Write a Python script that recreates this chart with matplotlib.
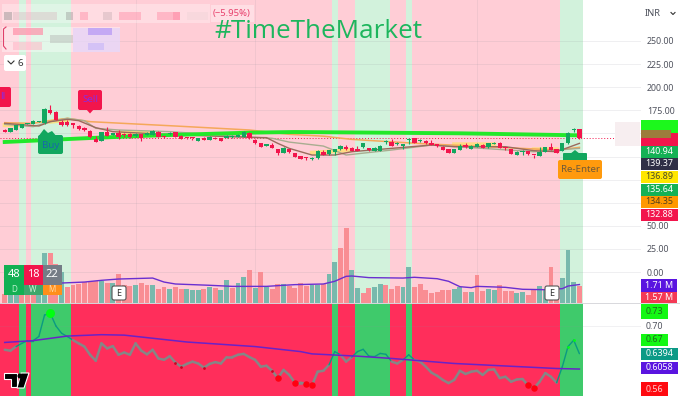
import matplotlib
matplotlib.use("Agg")
import matplotlib.pyplot as plt
from matplotlib.patches import FancyBboxPatch, Rectangle, Polygon
import numpy as np

plt.rcParams['font.family'] = ['Noto Sans', 'DejaVu Sans']

# candles, one value per bar
opens = [153.7, 151.9, 153.7, 156.2, 160.3, 160.2, 162.3, 160.9, 175.3, 172.8,
         162.7, 162.7, 160.9, 158.4, 156.2, 153.0, 144.3, 142.1, 151.9, 148.3,
         150.1, 148.6, 149.0, 147.2, 149.3, 148.3, 148.3, 151.9, 147.2, 149.0,
         151.2, 147.5, 144.9, 144.5, 141.8, 144.7, 142.9, 145.4, 144.7, 144.7,
         146.3, 146.5, 146.5, 150.8, 142.9, 139.2, 136.4, 137.4, 132.8, 129.1,
         133.1, 128.4, 125.5, 123.2, 121.9, 123.0, 130.2, 127.3, 130.2, 132.7,
         134.9, 133.8, 132.7, 134.9, 134.2, 131.3, 131.3, 140.7, 141.0, 138.3,
         136.3, 142.6, 144.6, 141.8, 142.1, 139.9, 138.1, 135.6, 133.1, 129.1,
         132.0, 137.0, 133.4, 135.6, 137.8, 134.9, 139.0, 139.2, 134.0, 132.7,
         126.6, 130.0, 130.9, 126.4, 125.9, 130.2, 134.9, 133.1, 130.9, 139.2,
         153.3, 154.4]
closes = [151.9, 155.5, 159.1, 160.2, 160.9, 163.4, 162.7, 176.0, 171.7, 164.5,
          159.1, 159.1, 159.1, 154.4, 153.3, 145.7, 141.0, 151.2, 147.5, 150.1,
          145.7, 148.0, 146.5, 149.0, 144.7, 150.1, 153.0, 146.5, 145.7, 150.8,
          146.5, 143.9, 144.3, 144.0, 144.7, 142.9, 145.7, 143.9, 142.1, 147.5,
          146.7, 148.3, 151.2, 144.7, 139.2, 135.6, 138.2, 134.6, 129.1, 134.6,
          129.5, 124.8, 122.6, 122.7, 123.7, 130.9, 126.6, 132.0, 133.1, 136.7,
          132.7, 131.3, 131.3, 139.2, 132.0, 134.5, 136.3, 141.3, 136.7, 138.9,
          138.1, 143.0, 139.9, 142.2, 139.2, 137.8, 136.0, 132.0, 129.1, 133.1,
          136.7, 134.9, 136.7, 138.1, 134.2, 139.2, 139.5, 134.5, 133.6, 127.7,
          130.2, 130.5, 127.3, 126.0, 130.2, 134.9, 132.0, 129.1, 139.2, 150.0,
          153.8, 144.6]
highs = [154.5, 156.0, 159.6, 160.5, 161.3, 165.0, 163.0, 177.0, 180.7, 174.0,
         164.0, 164.0, 161.5, 159.0, 156.5, 153.3, 147.2, 152.0, 157.3, 150.8,
         153.7, 150.0, 150.1, 150.5, 149.6, 151.0, 154.0, 152.5, 147.6, 151.2,
         152.0, 148.0, 145.3, 145.5, 145.0, 146.0, 147.0, 146.5, 145.0, 148.0,
         147.8, 149.5, 152.5, 151.5, 143.5, 139.6, 138.6, 139.2, 133.5, 135.0,
         133.5, 128.7, 125.8, 124.5, 125.0, 132.0, 132.5, 132.5, 133.6, 137.0,
         137.0, 135.5, 136.0, 139.6, 134.6, 135.2, 137.0, 143.0, 143.5, 140.5,
         138.8, 144.5, 145.0, 143.5, 142.5, 142.5, 139.0, 136.0, 133.5, 133.5,
         138.0, 140.0, 137.2, 140.0, 138.2, 139.6, 141.0, 140.5, 135.0, 133.0,
         130.6, 132.0, 131.3, 127.0, 135.6, 135.5, 139.2, 133.5, 139.8, 151.8,
         155.5, 154.8]
lows = [151.0, 151.0, 153.5, 156.0, 160.0, 160.0, 162.0, 160.5, 170.6, 164.0,
        157.5, 158.5, 155.5, 154.0, 153.0, 145.0, 140.6, 141.5, 147.0, 147.8,
        143.6, 146.0, 145.5, 146.0, 142.1, 148.0, 148.0, 146.0, 145.0, 148.8,
        146.0, 143.6, 144.0, 143.0, 141.6, 142.5, 142.5, 143.5, 141.8, 144.5,
        145.5, 146.0, 146.0, 144.3, 139.0, 135.2, 136.2, 134.2, 126.6, 128.8,
        129.0, 124.5, 122.3, 121.0, 121.6, 122.7, 126.3, 127.0, 126.6, 132.4,
        132.4, 131.0, 131.0, 134.6, 130.5, 130.6, 131.0, 138.0, 136.4, 137.0,
        132.7, 139.0, 139.5, 141.0, 139.0, 137.5, 135.7, 131.7, 128.8, 128.8,
        131.7, 134.5, 133.0, 135.0, 134.0, 134.6, 138.0, 134.0, 132.3, 127.3,
        126.3, 126.5, 127.0, 123.0, 125.5, 129.9, 131.7, 128.8, 130.5, 138.9,
        152.0, 144.3]

# moving averages on price, read at a few bars
brown_bars = [0, 6, 8, 11, 13, 16, 19, 28, 43, 46, 48, 50, 53, 54, 58, 61, 68, 75, 79, 88, 93, 97, 101]
brown_vals = [160.9, 158.0, 162.7, 165.2, 163.8, 156.2, 151.9, 149.0, 145.7, 145.4, 139.2, 133.8,
              128.4, 126.6, 126.6, 130.2, 133.8, 137.4, 135.6, 135.6, 131.3, 130.2, 139.2]
grey_bars = [0, 5, 8, 11, 14, 16, 20, 29, 44, 47, 50, 56, 60, 68, 75, 93, 101]
grey_vals = [159.8, 157.3, 162.7, 166.3, 163.8, 155.5, 153.7, 151.9, 145.7, 144.7, 140.6,
             136.3, 126.6, 132.0, 137.4, 130.2, 133.8]
orange_bars = [0, 5, 8, 11, 15, 30, 43, 50, 56, 61, 73, 97, 101]
orange_vals = [161.6, 160.9, 163.8, 166.3, 162.7, 158.0, 153.7, 149.0, 147.0, 143.5, 139.0, 132.0, 134.9]
lime_bars = [0, 15, 25, 43, 51, 80, 101]
lime_vals = [140.7, 145.0, 147.5, 150.8, 151.5, 150.1, 147.9]
# yellow ribbon only shows in stretches, nan breaks the line
yellow_bars = [0, 3, 4, 8, 11, 12, 20, 26, 27, 54, 61, 62, 79, 86, 87, 93, 97]
yellow_vals = [159.0, 159.0, np.nan, 162.7, 164.5, np.nan, 150.8, 150.8, np.nan, 129.0, 132.0, np.nan,
               138.1, 138.1, np.nan, 132.7, 132.7]
last_price = 144.6

# green stretches of the background, first and last bar
band_first = [3, 5, 58, 62, 71, 98]
band_last = [3, 11, 58, 67, 71, 101]

# volume in millions
volumes = [0.86, 1.02, 1.33, 1.17, 1.48, 1.79, 1.94, 4.66, 4.60, 3.64,
           2.87, 1.48, 1.70, 1.79, 1.94, 2.01, 2.04, 2.01, 1.88, 1.82,
           2.69, 1.70, 1.57, 1.70, 1.88, 1.70, 1.64, 1.33, 1.45, 1.27,
           1.45, 1.27, 1.27, 1.20, 1.20, 1.27, 1.51, 1.39, 1.20, 2.16,
           1.42, 1.82, 2.41, 3.02, 1.42, 2.84, 1.51, 1.27, 1.76, 1.79,
           1.57, 1.39, 1.85, 1.57, 1.70, 1.70, 1.79, 2.69, 3.80, 5.09,
           6.94, 3.02, 1.39, 0.90, 1.39, 1.45, 1.79, 1.64, 1.33, 1.57,
           1.45, 3.33, 1.45, 1.73, 1.23, 0.90, 1.02, 1.17, 1.17, 1.33,
           1.45, 0.99, 0.99, 2.56, 1.08, 1.27, 1.20, 1.64, 1.08, 1.11,
           0.93, 0.99, 0.77, 1.17, 1.60, 1.33, 3.33, 1.39, 2.31, 4.94,
           1.94, 1.57]
vol_up = [0, 1, 1, 0, 0, 0, 1, 1, 0, 0, 1, 0, 0, 0, 0, 0, 0, 1, 0, 1,
          0, 0, 0, 1, 0, 0, 1, 0, 0, 1, 0, 0, 1, 1, 1, 0, 1, 0, 1, 1,
          0, 1, 1, 0, 1, 0, 1, 0, 0, 1, 0, 0, 0, 0, 1, 1, 0, 1, 1, 0,
          0, 1, 1, 0, 0, 1, 1, 0, 0, 0, 1, 1, 0, 0, 0, 0, 0, 0, 0, 1,
          1, 0, 1, 0, 0, 1, 1, 0, 0, 0, 1, 1, 0, 0, 1, 1, 0, 0, 1, 1,
          1, 0]
vma_bars = [0, 2, 6, 7, 10, 14, 17, 20, 26, 28, 30, 36, 40, 46, 49, 51, 56, 58, 60, 61, 64,
            70, 72, 76, 78, 80, 82, 83, 88, 91, 95, 98, 99, 101]
vma_vals = [2.41, 2.01, 1.48, 1.64, 1.85, 1.94, 2.10, 2.22, 2.31, 1.94, 1.76, 1.64, 1.54, 1.54,
            1.64, 1.70, 1.76, 2.01, 2.47, 2.50, 2.35, 2.31, 2.38, 2.25, 2.01, 1.51, 1.42, 1.54,
            1.45, 1.27, 1.23, 1.33, 1.57, 1.71]

# oscillator, one value per bar
osc = [0.648, 0.646, 0.655, 0.662, 0.668, 0.668, 0.677, 0.724, 0.728, 0.700,
       0.684, 0.677, 0.669, 0.662, 0.655, 0.637, 0.624, 0.662, 0.651, 0.656,
       0.637, 0.642, 0.637, 0.662, 0.646, 0.638, 0.648, 0.629, 0.626, 0.634,
       0.620, 0.611, 0.617, 0.622, 0.618, 0.609, 0.617, 0.621, 0.618, 0.632,
       0.632, 0.637, 0.639, 0.632, 0.626, 0.611, 0.613, 0.602, 0.586, 0.604,
       0.593, 0.576, 0.576, 0.573, 0.570, 0.600, 0.602, 0.615, 0.644, 0.637,
       0.622, 0.632, 0.644, 0.649, 0.634, 0.633, 0.640, 0.638, 0.622, 0.618,
       0.626, 0.637, 0.626, 0.622, 0.611, 0.598, 0.591, 0.582, 0.575, 0.582,
       0.602, 0.595, 0.600, 0.602, 0.593, 0.604, 0.605, 0.586, 0.589, 0.578,
       0.583, 0.584, 0.570, 0.564, 0.578, 0.597, 0.589, 0.576, 0.611, 0.655,
       0.669, 0.6394]
osc_ma_bars = [0, 5, 11, 17, 21, 32, 44, 52, 54, 62, 68, 79, 97, 101]
osc_ma_vals = [0.664, 0.668, 0.678, 0.681, 0.680, 0.665, 0.655, 0.644, 0.639, 0.634, 0.629, 0.618, 0.607, 0.6058]
low_big = [48, 51, 53, 54, 92, 93]
low_small = [30, 31, 35, 47]
high_big = [8]
high_small = [99, 100]

price_ticks = [250, 225, 200, 175, 50, 25, 0]
price_tags = ["140.94", "139.37", "136.89", "135.64", "134.35", "132.88"]
vol_tags = ["1.71 M", "1.57 M"]
osc_tags = ["0.73", "0.67", "0.6394", "0.6058", "0.56"]
rating_values = ["48", "18", "22"]
rating_names = ["D", "W", "M"]

W, H = 680, 400
PINK = "#ffcdd6"
LGREEN = "#d2f2dc"
UP = "#12a75f"
DOWN = "#f2154c"
bars = np.arange(len(closes))
bar_left, bar_right = -0.83, 111.65
band_end = 101.66

fig = plt.figure(figsize=(6.8, 4.0), dpi=100)


def pane(top, bottom):
    return fig.add_axes([0, 1 - bottom / H, 1, (bottom - top) / H])


# price pane runs over the whole width, axis labels sit inside the right margin
ax = pane(0, 303)
ax.set_xlim(bar_left, bar_left + (bar_right - bar_left) * W / 640)
ax.set_ylim(272 / 0.924 - 303 / 0.924, 272 / 0.924)
ax.axvspan(bar_left, band_end, color=PINK, lw=0, zorder=0)
for a, b in zip(band_first, band_last):
    ax.axvspan(a - 0.42, b + 0.66, color=LGREEN, lw=0, zorder=0.5)
for v in range(0, 275, 25):
    ax.plot([bar_left, bar_right], [v, v], color="#90909a", alpha=0.14, lw=0.7, zorder=1)
for t in [23, 44, 83]:
    ax.axvline(t, ymin=0, ymax=1, color="#90909a", alpha=0.12, lw=0.7, zorder=1)
ax.set_yticks(price_ticks)
ax.set_yticklabels(["%.2f" % v for v in price_ticks], fontsize=6.4, color="#50535e")
ax.yaxis.tick_right()
ax.tick_params(axis="y", length=0, pad=-23.8)
ax.set_xticks([])
for s in ax.spines.values():
    s.set_visible(False)

# volume shares the pane, same pixels, its own scale
ax_vol = pane(0, 303)
ax_vol.set_xlim(ax.get_xlim())
ax_vol.set_ylim(0, 303 / 10.8)
ax_vol.axis("off")
vol_colors = ["#78b9ad" if u else "#f98d93" for u in vol_up]
ax_vol.bar(bars, volumes, width=0.86, color=vol_colors, lw=0, zorder=2)
ax_vol.plot(vma_bars, vma_vals, color="#6a2fd0", lw=1.0, zorder=3)

# price marks go in a third layer so they sit over the volume
ax_p = pane(0, 303)
ax_p.set_xlim(ax.get_xlim())
ax_p.set_ylim(ax.get_ylim())
ax_p.axis("off")
ax_p.plot([bar_left, 107], [last_price, last_price], color="#f2154c", lw=0.7, ls=(0, (1, 2)), zorder=2)
ax_p.plot(yellow_bars, yellow_vals, color="#ffdf70", lw=3, alpha=0.8, zorder=2.5)
ax_p.plot(orange_bars, orange_vals, color="#f5a85a", lw=1.1, zorder=3)
ax_p.plot(grey_bars, grey_vals, color="#a8ad90", lw=1.0, zorder=3)
ax_p.plot(brown_bars, brown_vals, color="#9a6a5c", lw=1.0, zorder=3)
ax_p.plot(lime_bars, lime_vals, color="#22e82a", lw=2.8, zorder=3)
colors = [UP if c >= o else DOWN for o, c in zip(opens, closes)]
ax_p.vlines(bars, lows, highs, colors=colors, lw=0.8, zorder=4)
# very small bodies would vanish, keep them a pixel tall
heights = [c - o if abs(c - o) >= 1.1 else 1.1 for o, c in zip(opens, closes)]
ax_p.bar(bars, heights, bottom=opens, width=0.76, color=colors, lw=0, zorder=5)

# oscillator pane
ax_o = pane(303, 396)
ax_o.set_xlim(ax.get_xlim())
ax_o.set_ylim(0.70 - 70 / 457, 0.70 + 23 / 457)
ax_o.axis("off")
ax_o.axvspan(bar_left, band_end, color="#ff2e5b", lw=0, zorder=0)
for a, b in zip(band_first, band_last):
    ax_o.axvspan(a - 0.42, b + 0.66, color="#3fca6b", lw=0, zorder=0.5)
ax_o.plot([bar_left, bar_right], [0.70, 0.70], color="#90909a", alpha=0.12, lw=0.7, zorder=1)
for i in bars[:-1]:
    in_band = any(a - 1 <= i <= b for a, b in zip(band_first, band_last))
    ax_o.plot(bars[i:i + 2], osc[i:i + 2], color="#0b9a82" if in_band else "#868686",
              lw=1.0 if in_band else 1.8, zorder=2, solid_capstyle="round")
ax_o.plot(osc_ma_bars, osc_ma_vals, color="#6a22c8", lw=1.1, zorder=3)
ax_o.scatter(low_big, [osc[i] for i in low_big], s=22, color="#ff0010", lw=0, zorder=4)
ax_o.scatter(low_small, [osc[i] for i in low_small], s=4, color="#d00020", lw=0, zorder=4)
ax_o.scatter(high_big, [osc[i] for i in high_big], s=42, color="#00ff10", lw=0, zorder=4)
ax_o.scatter(high_small, [osc[i] for i in high_small], s=4, color="#00ff10", lw=0, zorder=4)

# overlay in pixels for labels and widgets
ov = fig.add_axes([0, 0, 1, 1])
ov.set_xlim(0, W)
ov.set_ylim(H, 0)
ov.axis("off")
ov.patch.set_alpha(0)


def rect(x0, y0, x1, y1, color, alpha=1.0, z=2):
    ov.add_patch(Rectangle((x0, y0), x1 - x0, y1 - y0, facecolor=color, edgecolor="none", alpha=alpha, zorder=z))


def rbox(x0, y0, x1, y1, color, r=2, z=3, edge="none", lw=0):
    ov.add_patch(FancyBboxPatch((x0 + r, y0 + r), x1 - x0 - 2 * r, y1 - y0 - 2 * r,
                                boxstyle="round,pad=%g,rounding_size=%g" % (r, r),
                                facecolor=color, edgecolor=edge, lw=lw, zorder=z))


def tag(x0, y0, x1, y1, color, label, tc="white"):
    rect(x0, y0, x1, y1, color)
    ov.text((x0 + x1) / 2, (y0 + y1) / 2, label, ha="center", va="center", fontsize=6.4, color=tc, zorder=4)


# blurred header
rect(2, 4, 210, 23, "white", 0.3)
rect(2, 27, 120, 52, "white", 0.4)
for x0, x1, c, al in [(4, 12, "#8f8f8f", 0.45), (13, 57, "#d8b8be", 0.4), (66, 73, "#8f8f8f", 0.38),
                      (80, 88, "#ff8aa5", 0.45), (103, 112, "#c0a8ae", 0.38), (119, 141, "#ff8aa5", 0.45),
                      (157, 173, "#ff8aa5", 0.45), (173, 180, "#ff6f90", 0.55), (187, 208, "#f4d5da", 0.55)]:
    rect(x0, 12, x1, 20, c, al)
rect(13, 28, 43, 35, "#ff8fa8", 0.7)
rect(13, 42, 42, 50, "#ffb6c6", 0.55)
rect(50, 35, 73, 43, "#b8bdb8", 0.5)
rect(73, 28, 120, 52, "#dccfff", 0.55)
rect(88, 28, 112, 35, "#b89af5", 0.75)
rect(88, 43, 104, 50, "#cdbcf8", 0.75)
ov.plot([6, 3.5, 3.5, 6], [27, 29, 46, 49], color="#e0406a", lw=0.8, zorder=3)
rect(211, 5, 254, 22, "white", 0.35)
ov.text(232, 13.5, "(\u22125.95%)", ha="center", va="center", fontsize=6.8, color="#e8406c", zorder=4)
ov.text(214, 32, "#TimeTheMarket", ha="left", va="center", fontsize=18.85, color="#1db65d",
        family="Open Sans", zorder=4)
rbox(4, 55, 26, 71, "white", 2)
ov.plot([8, 11, 14], [61, 64, 61], color="#333", lw=0.8, zorder=4)
ov.text(20, 63.5, "6", ha="center", va="center", fontsize=7, color="#333", zorder=4)
rbox(644, 5, 678, 22, "white", 1, z=1.5)
ov.text(653, 13.5, "INR", ha="center", va="center", fontsize=6.8, color="#50535e", zorder=4)
ov.plot([671, 673, 675], [12.5, 14.5, 12.5], color="#333", lw=0.8, zorder=4)

# signal flags
rbox(38, 135, 63, 154, UP, 2)
ov.add_patch(Polygon([(38, 137), (44, 129), (48, 133), (52, 131), (57, 137)], facecolor=UP, zorder=3))
ov.text(50.5, 145.5, "Buy", ha="center", va="center", fontsize=7, color="#1769aa", zorder=4)
rbox(78, 90, 102, 110, DOWN, 2)
ov.add_patch(Polygon([(86, 109), (94, 109), (90, 113.5)], facecolor=DOWN, zorder=3))
ov.text(90, 99.5, "Sell", ha="center", va="center", fontsize=7, color="#8a2be2", zorder=4)
rbox(-6, 87, 11, 107, DOWN, 2)
ov.text(3, 96.5, "ll", ha="center", va="center", fontsize=7, color="#8a2be2", zorder=4)
rbox(563, 153, 587, 162, UP, 1)
ov.add_patch(Polygon([(563, 155), (570, 154), (575, 150), (580, 154), (587, 155)], facecolor=UP, zorder=3))
rbox(558, 160, 602, 179, "#ff9a0d", 2)
ov.text(580, 170, "Re-Enter", ha="center", va="center", fontsize=7, color="#6e5a3a", zorder=4)

# earnings markers
for x in [119, 552]:
    rbox(x - 7, 286, x + 7, 300, "white", 2, edge="#555", lw=0.8)
    ov.text(x, 293.3, "E", ha="center", va="center", fontsize=6.5, color="#333", weight="bold", zorder=4)

# ratings widget
cell_x = [4, 23.5, 42.5, 62]
top_c = ["#13b053", "#f2154c", "#757c86"]
low_c = ["#13b053", "#3fa76c", "#ff8f1a"]
low_t = ["#b8f0cc", "#c8f0d4", "#ffd9a8"]
for k in range(3):
    rect(cell_x[k], 264.5, cell_x[k + 1], 284.5, top_c[k])
    rect(cell_x[k], 284.5, cell_x[k + 1], 294.5, low_c[k])
    ov.text((cell_x[k] + cell_x[k + 1]) / 2, 274.5, rating_values[k], ha="center", va="center",
            fontsize=8, color="white", zorder=4)
    ov.text((cell_x[k] + cell_x[k + 1]) / 2, 289.5, rating_names[k], ha="center", va="center",
            fontsize=5.8, color=low_t[k], zorder=4)

# logo
ov.add_patch(Polygon([(4, 373), (17, 373), (17, 387), (11, 387), (11, 379), (4, 379)],
                     facecolor="black", edgecolor="white", lw=0.8, zorder=4))
ov.add_patch(Polygon([(21, 373), (29, 373), (24, 388), (17, 388)],
                     facecolor="black", edgecolor="white", lw=0.8, zorder=4))
ov.add_patch(plt.Circle((20, 376), 1.8, color="black", zorder=5))

# right side tags, the top two are hidden under a blur in the original
rect(615, 122, 640, 146, "#f7eef0", 1, z=1.5)
rect(640.5, 120, 678, 133, "#1cf81c")
rect(640.5, 133, 678, 146, "#f2154c")
rect(640.5, 130, 671, 138, "#9c7c3c")
tag_layout = [(146, 157.5, "#14b155", "white"), (158, 170, "#2f2f46", "white"), (170.5, 183, "#ffe600", "#4a4a2a"),
              (183.5, 195.5, "#14b155", "white"), (196, 208, "#ff9800", "#54401c"), (208.5, 220.5, "#f2154c", "white")]
for lb, (y0, y1, c, tc) in zip(price_tags, tag_layout):
    tag(640.5, y0, 678, y1, c, lb, tc)
tag(640.5, 279, 677, 291.5, "#5a14e0", vol_tags[0])
tag(640.5, 292, 677, 303, "#f43a55", vol_tags[1])
ov.plot([0, W], [303, 303], color="#d8d8dc", lw=0.7, zorder=1.8)
tag(640.5, 304, 668, 319, "#14f814", osc_tags[0], "#226622")
ov.text(654, 326.5, "0.70", ha="center", va="center", fontsize=6.4, color="#50535e", zorder=4)
tag(640.5, 334, 668, 346, "#14f814", osc_tags[1], "#226622")
tag(640.5, 347.5, 678, 359.5, "#0c9a86", osc_tags[2])
tag(640.5, 362, 678, 374, "#5a14e0", osc_tags[3])
tag(640.5, 382, 668, 396, "#ff0a10", osc_tags[4], "#ffd0d0")

fig.savefig("out.png", dpi=100)
